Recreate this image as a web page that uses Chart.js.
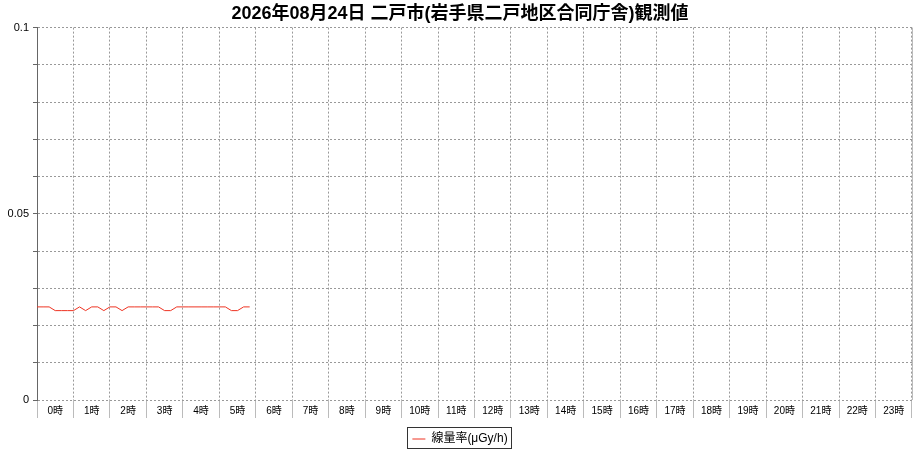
<!DOCTYPE html>
<html>
<head>
<meta charset="utf-8">
<script src="https://cdn.jsdelivr.net/npm/chart.js@4"></script>
<style>
html,body{margin:0;padding:0;background:#fff;}
#wrap{width:920px;height:450px;}
</style>
</head>
<body>
<div id="wrap"><canvas id="c" width="920" height="450"></canvas></div>
<script>
const titleText = '2026年08月24日 二戸市(岩手県二戸地区合同庁舎)観測値';
const hourLabels = ['0時','1時','2時','3時','4時','5時','6時','7時','8時','9時','10時','11時','12時','13時','14時','15時','16時','17時','18時','19時','20時','21時','22時','23時'];
const seriesName = '線量率(μGy/h)';
// readings every 10 minutes from 0:00 to 5:50
const doseRate = [
  0.025,0.025,0.025,0.024,0.024,0.024,
  0.024,0.025,0.024,0.025,0.025,0.024,
  0.025,0.025,0.024,0.025,0.025,0.025,
  0.025,0.025,0.025,0.024,0.024,0.025,
  0.025,0.025,0.025,0.025,0.025,0.025,
  0.025,0.025,0.024,0.024,0.025,0.025
];
const yLabelValues = [0, 0.05, 0.1];

const FONT = '"Liberation Sans", "Noto Sans CJK JP", sans-serif';

const points = doseRate.map((v, i) => ({x: i / 6, y: v}));

const framePlugin = {
  id: 'frame',
  afterLayout(chart) {
    const lg = chart.legend;
    if (lg) { lg.top += 5; lg.bottom += 5; }
  },
  afterDraw(chart) {
    const ctx = chart.ctx, a = chart.chartArea;
    ctx.save();
    ctx.strokeStyle = '#bbbbbb';
    ctx.lineWidth = 1;
    ctx.beginPath();
    ctx.moveTo(Math.round(a.right) + 0.5, a.top);
    ctx.lineTo(Math.round(a.right) + 0.5, a.bottom);
    ctx.stroke();
    const lg = chart.legend;
    if (lg && lg.legendHitBoxes && lg.legendHitBoxes.length) {
      const hb = lg.legendHitBoxes[0];
      ctx.strokeStyle = '#333333';
      ctx.strokeRect(Math.round(hb.left) - 4.5, Math.round(hb.top) - 5.5, Math.round(hb.width) + 9, Math.round(hb.height) + 9);
    }
    ctx.restore();
  }
};

new Chart(document.getElementById('c'), {
  type: 'line',
  data: {
    labels: hourLabels,
    datasets: [{
      label: seriesName,
      data: points,
      xAxisID: 'xt',
      borderColor: '#ee3322',
      backgroundColor: '#ee3322',
      borderWidth: 1,
      pointRadius: 0,
      tension: 0,
      fill: false
    }]
  },
  options: {
    responsive: false,
    animation: false,
    layout: {padding: 0},
    plugins: {
      title: {
        display: true,
        text: titleText,
        color: '#000',
        font: {family: FONT, size: 18, weight: 'bold'},
        padding: {top: 3, bottom: 3}
      },
      legend: {
        display: true,
        position: 'bottom',
        labels: {
          color: '#000',
          font: {family: FONT, size: 12},
          usePointStyle: true,
          pointStyle: 'line',
          pointStyleWidth: 13,
          boxHeight: 12,
          padding: 10
        }
      },
      tooltip: {enabled: false}
    },
    scales: {
      xt: {
        type: 'linear',
        display: false,
        min: 0,
        max: 24
      },
      x: {
        type: 'category',
        position: 'bottom',
        offset: true,
        grid: {
          offset: true,
          color: '#999999',
          lineWidth: 1,
          tickLength: 18,
          tickColor: '#bbbbbb',
          tickBorderDash: [],
          drawTicks: true
        },
        border: {display: false, dash: [2, 2]},
        ticks: {
          color: '#000',
          font: {family: FONT, size: 10},
          padding: -13,
          maxRotation: 0,
          autoSkip: false
        },
        afterFit(s) { s.height = 18; }
      },
      y: {
        type: 'linear',
        min: 0,
        max: 0.1,
        grid: {
          color: '#999999',
          tickColor: '#666666',
          tickLength: 4,
          tickBorderDash: []
        },
        border: {display: true, color: '#666666', width: 1, dash: [2, 2]},
        ticks: {
          stepSize: 0.01,
          color: '#000',
          font: {family: FONT, size: 11},
          padding: 4,
          callback(v) {
            const r = Math.round(v * 100) / 100;
            return yLabelValues.some(t => Math.abs(t - r) < 1e-9) ? String(r) : '';
          }
        },
        afterFit(s) { s.width = 37; }
      },
      yr: {
        type: 'linear',
        position: 'right',
        display: true,
        min: 0,
        max: 0.1,
        grid: {display: false, drawTicks: false},
        border: {display: false},
        ticks: {display: false},
        afterFit(s) { s.width = 8; }
      }
    }
  },
  plugins: [framePlugin]
});
</script>
</body>
</html>
